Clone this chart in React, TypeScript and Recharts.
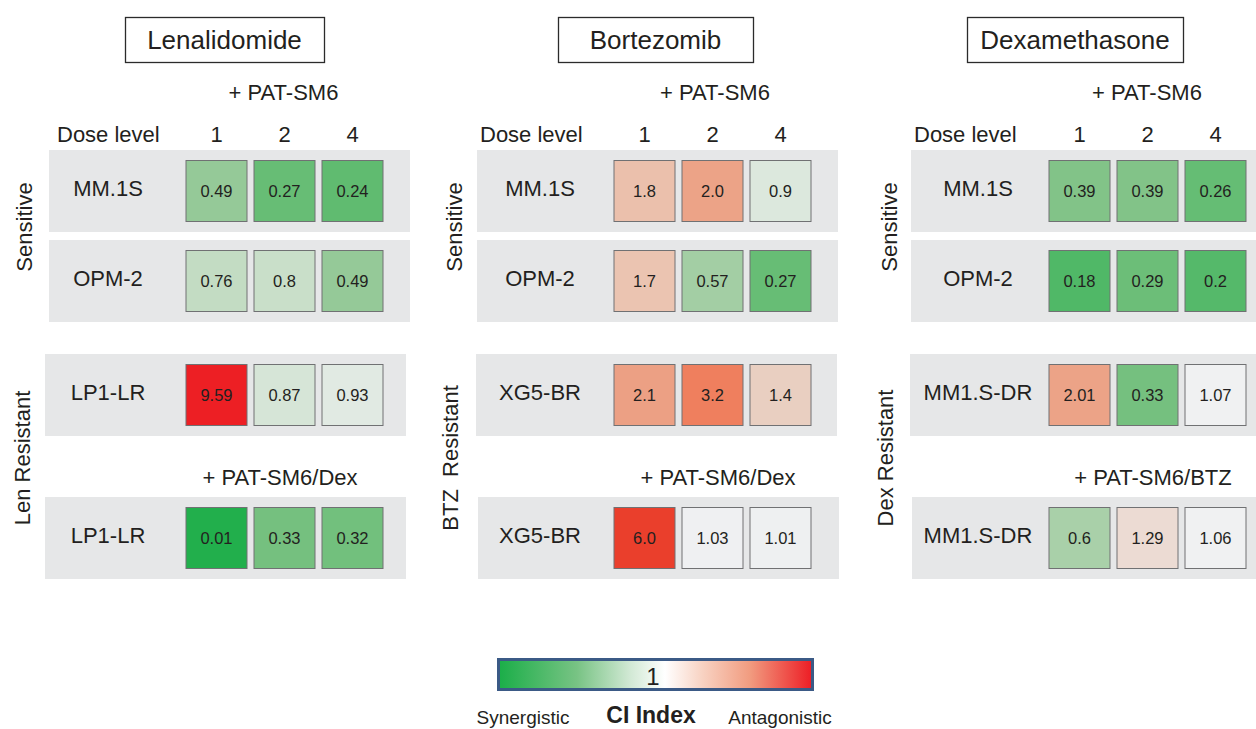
import React from 'react';
import { ScatterChart, Scatter, XAxis, YAxis } from 'recharts';

const FONT = '"Liberation Sans", Arial, Helvetica, sans-serif';
const INK = '#231f20';

// ---------- data ----------
const doseLevels = ['1', '2', '4'];

// Lenalidomide
const lenCellLines = ['MM.1S', 'OPM-2', 'LP1-LR', 'LP1-LR'];
const lenMM1S = ['0.49', '0.27', '0.24'];
const lenOPM2 = ['0.76', '0.8', '0.49'];
const lenLP1LR = ['9.59', '0.87', '0.93'];
const lenLP1LRDex = ['0.01', '0.33', '0.32'];

// Bortezomib
const btzCellLines = ['MM.1S', 'OPM-2', 'XG5-BR', 'XG5-BR'];
const btzMM1S = ['1.8', '2.0', '0.9'];
const btzOPM2 = ['1.7', '0.57', '0.27'];
const btzXG5BR = ['2.1', '3.2', '1.4'];
const btzXG5BRDex = ['6.0', '1.03', '1.01'];

// Dexamethasone
const dexCellLines = ['MM.1S', 'OPM-2', 'MM1.S-DR', 'MM1.S-DR'];
const dexMM1S = ['0.39', '0.39', '0.26'];
const dexOPM2 = ['0.18', '0.29', '0.2'];
const dexMM1SDR = ['2.01', '0.33', '1.07'];
const dexMM1SDRBtz = ['0.6', '1.29', '1.06'];

const panelTitles = ['Lenalidomide', 'Bortezomib', 'Dexamethasone'];
const comboLabel = '+ PAT-SM6';
const tripleLabels = ['+ PAT-SM6/Dex', '+ PAT-SM6/Dex', '+ PAT-SM6/BTZ'];
const groupLabels = [
  ['Sensitive', 'Len Resistant'],
  ['Sensitive', 'BTZ  Resistant'],
  ['Sensitive', 'Dex Resistant'],
];

// ---------- colour scale (CI index) ----------
const colorStops: [number, string][] = [
  [0, '#1fae4a'],
  [0.25, '#63bc72'],
  [0.4, '#84c48a'],
  [0.6, '#a9d0a9'],
  [0.8, '#c9dfc9'],
  [1.0, '#eef0f1'],
  [1.1, '#f1f1f3'],
  [1.4, '#e9cfc1'],
  [1.8, '#ebc0ac'],
  [2.0, '#eca387'],
  [3.2, '#ef7f5e'],
  [6.0, '#ea3f2c'],
  [9.59, '#ed1f24'],
];

function hexToRgb(h: string) {
  const n = parseInt(h.slice(1), 16);
  return [(n >> 16) & 255, (n >> 8) & 255, n & 255];
}
function ciColor(v: number): string {
  if (v <= colorStops[0][0]) return colorStops[0][1];
  for (let i = 1; i < colorStops.length; i++) {
    const [v1, c1] = colorStops[i];
    if (v <= v1) {
      const [v0, c0] = colorStops[i - 1];
      const t = (v - v0) / (v1 - v0);
      const a = hexToRgb(c0);
      const b = hexToRgb(c1);
      const m = a.map((x, k) => Math.round(x + (b[k] - x) * t));
      return `rgb(${m[0]},${m[1]},${m[2]})`;
    }
  }
  return colorStops[colorStops.length - 1][1];
}

// ---------- layout ----------
const BAND_W = 361;
const BAND_H = 82;
const HEADER_H = 32;
const CELL = 61;
const CELL_STEP = 68;
const bandTops = [150, 240, 354, 497];

const panels = [
  {
    lines: lenCellLines,
    rows: [lenMM1S, lenOPM2, lenLP1LR, lenLP1LRDex],
    bandLefts: [49, 49, 45, 45],
    cellsLeft: 186,
    labelCx: 108,
    box: { x: 125, w: 199 },
    titleCx: 224.5,
    subCx: 283.5,
    doseX: 57,
    tripleCx: 280,
    groupX: [31.5, 30],
  },
  {
    lines: btzCellLines,
    rows: [btzMM1S, btzOPM2, btzXG5BR, btzXG5BRDex],
    bandLefts: [477, 477, 476, 478],
    cellsLeft: 614,
    labelCx: 540,
    box: { x: 558, w: 195 },
    titleCx: 655.5,
    subCx: 715,
    doseX: 480,
    tripleCx: 718,
    groupX: [462, 458],
  },
  {
    lines: dexCellLines,
    rows: [dexMM1S, dexOPM2, dexMM1SDR, dexMM1SDRBtz],
    bandLefts: [911, 911, 910, 912],
    cellsLeft: 1049,
    labelCx: 978,
    box: { x: 967, w: 216 },
    titleCx: 1075,
    subCx: 1147,
    doseX: 914,
    tripleCx: 1153,
    groupX: [897, 893],
  },
];

function CellShape(props: any) {
  const { cx, cy, payload } = props;
  if (cx == null || cy == null) return null;
  return (
    <g>
      <rect
        x={cx - CELL / 2}
        y={cy - CELL / 2}
        width={CELL}
        height={CELL}
        fill={ciColor(payload.value)}
        stroke="#707173"
        strokeWidth={1}
      />
      <text
        x={cx}
        y={cy + 6}
        textAnchor="middle"
        fontSize={16.5}
        fontFamily={FONT}
        fill={INK}
      >
        {payload.label}
      </text>
    </g>
  );
}

function RowChart(props: {
  line: string;
  values: string[];
  header: boolean;
  left: number;
  top: number;
  cellsLeft: number;
  labelCx: number;
}) {
  const { line, values, header, left, top, cellsLeft, labelCx } = props;
  const data = values.map((v, i) => ({ col: i, y: 1, label: v, value: Number(v) }));
  const headH = header ? HEADER_H : 0;
  const h = BAND_H + headH;
  const yw = cellsLeft - (CELL_STEP - CELL) / 2 - left;
  const right = BAND_W - yw - CELL_STEP * doseLevels.length;
  return (
    <div style={{ position: 'absolute', left, top: top - headH, width: BAND_W, height: h }}>
      <div
        style={{
          position: 'absolute',
          left: 0,
          top: headH,
          width: BAND_W,
          height: BAND_H,
          background: '#e6e7e8',
        }}
      />
      <div style={{ position: 'absolute', left: 0, top: 0 }}>
        <ScatterChart width={BAND_W} height={h} margin={{ top: 0, right, bottom: 0, left: 0 }}>
          <XAxis
            type="number"
            dataKey="col"
            domain={[-0.5, doseLevels.length - 0.5]}
            ticks={doseLevels.map((_, i) => i)}
            orientation="top"
            height={HEADER_H}
            hide={!header}
            axisLine={false}
            tickLine={false}
            interval={0}
            tick={(p: any) => (
              <text
                x={p.x}
                y={24}
                textAnchor="middle"
                fontSize={22}
                fontFamily={FONT}
                fill={INK}
              >
                {doseLevels[p.payload.value]}
              </text>
            )}
          />
          <YAxis
            type="number"
            dataKey="y"
            domain={[0, 2]}
            ticks={[1]}
            width={yw}
            axisLine={false}
            tickLine={false}
            tick={(p: any) => (
              <text
                x={labelCx - left}
                y={p.y + 5}
                textAnchor="middle"
                fontSize={22}
                fontFamily={FONT}
                fill={INK}
              >
                {line}
              </text>
            )}
          />
          <Scatter data={data} isAnimationActive={false} shape={CellShape} />
        </ScatterChart>
      </div>
    </div>
  );
}

export default function App() {
  return (
    <div
      style={{
        position: 'absolute',
        left: 0,
        top: 0,
        width: 1256,
        height: 729,
        overflow: 'hidden',
        background: '#ffffff',
        fontFamily: FONT,
      }}
    >
      {panels.map((p, pi) =>
        p.rows.map((vals, ri) => (
          <RowChart
            key={`${pi}-${ri}`}
            line={p.lines[ri]}
            values={vals}
            header={ri === 0}
            left={p.bandLefts[ri]}
            top={bandTops[ri]}
            cellsLeft={p.cellsLeft}
            labelCx={p.labelCx}
          />
        ))
      )}
      <svg
        width={1256}
        height={729}
        style={{ position: 'absolute', left: 0, top: 0, pointerEvents: 'none' }}
        fontFamily={FONT}
      >
        <defs>
          <linearGradient id="ciGrad" x1="0" x2="1" y1="0" y2="0">
            <stop offset="0" stopColor="#1aae48" />
            <stop offset="0.25" stopColor="#78c384" />
            <stop offset="0.42" stopColor="#d2e9d5" />
            <stop offset="0.53" stopColor="#ffffff" />
            <stop offset="0.65" stopColor="#f8d2c2" />
            <stop offset="0.8" stopColor="#f19c80" />
            <stop offset="1" stopColor="#ed1c24" />
          </linearGradient>
        </defs>
        {panels.map((p, pi) => (
          <g key={pi}>
            <rect
              x={p.box.x + 0.5}
              y={17.5}
              width={p.box.w}
              height={45}
              fill="#ffffff"
              stroke="#2b2b2b"
              strokeWidth={1.3}
            />
            <text x={p.titleCx} y={49} textAnchor="middle" fontSize={26} fill={INK}>
              {panelTitles[pi]}
            </text>
            <text x={p.subCx} y={100} textAnchor="middle" fontSize={22} fill={INK}>
              {comboLabel}
            </text>
            <text x={p.doseX} y={142} fontSize={22} fill={INK}>
              Dose level
            </text>
            <text x={p.tripleCx} y={485} textAnchor="middle" fontSize={22} fill={INK}>
              {tripleLabels[pi]}
            </text>
            <text
              transform={`translate(${p.groupX[0]},227) rotate(-90)`}
              textAnchor="middle"
              fontSize={22}
              fill={INK}
            >
              {groupLabels[pi][0]}
            </text>
            <text
              transform={`translate(${p.groupX[1]},458) rotate(-90)`}
              textAnchor="middle"
              fontSize={22}
              fill={INK}
              xmlSpace="preserve"
              style={{ whiteSpace: 'pre' }}
            >
              {groupLabels[pi][1]}
            </text>
          </g>
        ))}
        <rect
          x={498.5}
          y={659.5}
          width={314}
          height={30}
          fill="url(#ciGrad)"
          stroke="#3b5a86"
          strokeWidth={3}
        />
        <text x={653} y={685} textAnchor="middle" fontSize={24} fill={INK}>
          1
        </text>
        <text x={523} y={724} textAnchor="middle" fontSize={19} fill={INK}>
          Synergistic
        </text>
        <text x={651} y={723} textAnchor="middle" fontSize={23} fontWeight="bold" fill={INK}>
          CI Index
        </text>
        <text x={780} y={724} textAnchor="middle" fontSize={19} fill={INK}>
          Antagonistic
        </text>
      </svg>
    </div>
  );
}
